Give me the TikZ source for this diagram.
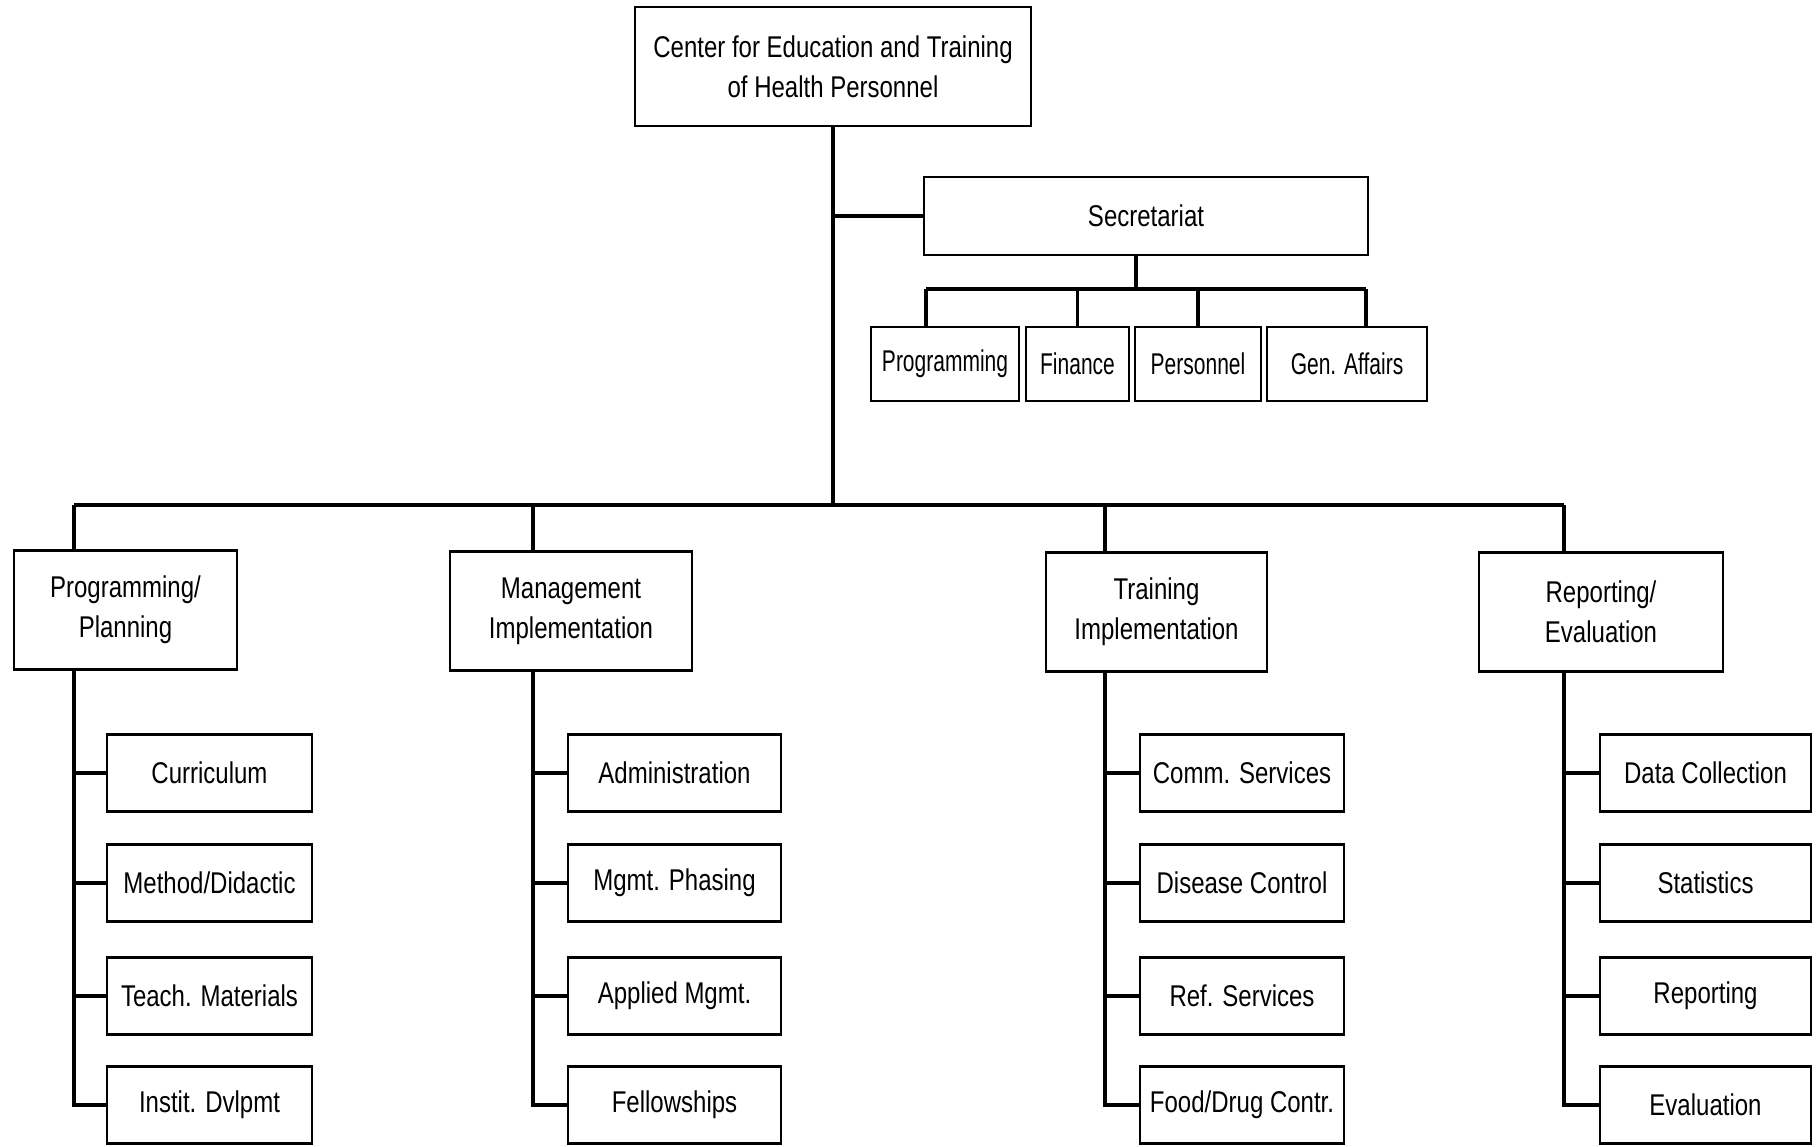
\documentclass[tikz,border=0pt]{standalone}
\usepackage{fontspec}
\usepackage{tikz}
\newfontfamily\plotfont[FakeStretch=0.8]{Liberation Sans}
\newfontfamily\plotnarrow[FakeStretch=0.7]{Liberation Sans}

\begin{document}
\begin{tikzpicture}[x=0.5pt,y=-0.5pt,line width=1.6pt,
    unit box/.style={draw,line width=1.4pt,inner sep=1pt,align=center,
      font={\plotfont\fontsize{15}{20}\selectfont}},
    head box/.style={unit box,minimum width=198pt,minimum height=59.5pt},
    sec box/.style={unit box,minimum height=37pt,
      font={\plotnarrow\fontsize{15}{20}\selectfont}},
    dept box/.style={unit box,minimum height=59.5pt},
    leaf box/.style={unit box,minimum height=38.5pt}]
  \useasboundingbox (0,0) rectangle (1818,1146);
  \fill[white] (0,0) rectangle (1818,1146);

  \node[head box] (ctr) at (833,66.5) {Center for Education and Training\\of Health Personnel};
  \node[unit box,minimum width=222pt,minimum height=39pt] (secr) at (1146,216) {Secretariat};

  \node[sec box,minimum width=74pt] (prg) at (945,364) {Programming};
  \node[sec box,minimum width=51.5pt] (fin) at (1077.5,364) {Finance};
  \node[sec box,minimum width=63pt] (pers) at (1198,364) {Personnel};
  \node[sec box,minimum width=80pt] (gen) at (1347,364) {Gen. Affairs};

  \node[dept box,minimum width=111.5pt] (plan) at (125.5,610) {Programming/\\Planning};
  \node[dept box,minimum width=121pt] (mgmt) at (571,611) {Management\\Implementation};
  \node[dept box,minimum width=110.5pt] (train) at (1156.5,612) {Training\\Implementation};
  \node[dept box,minimum width=122pt] (rep) at (1601,612) {Reporting/\\Evaluation};

  % Programming/Planning
  \node[leaf box,minimum width=102.5pt] (curr) at (209.5,773) {Curriculum};
  \node[leaf box,minimum width=102.5pt] (meth) at (209.5,883) {Method/Didactic};
  \node[leaf box,minimum width=102.5pt] (teach) at (209.5,996) {Teach. Materials};
  \node[leaf box,minimum width=102.5pt] (inst) at (209.5,1105) {Instit. Dvlpmt};

  % Management Implementation
  \node[leaf box,minimum width=106.5pt] (adm) at (674.5,773) {Administration};
  \node[leaf box,minimum width=106.5pt] (phas) at (674.5,883) {Mgmt. Phasing};
  \node[leaf box,minimum width=106.5pt] (appl) at (674.5,996) {Applied Mgmt.};
  \node[leaf box,minimum width=106.5pt] (fell) at (674.5,1105) {Fellowships};

  % Training Implementation
  \node[leaf box,minimum width=102pt] (comm) at (1242,773) {Comm. Services};
  \node[leaf box,minimum width=102pt] (dis) at (1242,883) {Disease Control};
  \node[leaf box,minimum width=102pt] (ref) at (1242,996) {Ref. Services};
  \node[leaf box,minimum width=102pt] (food) at (1242,1105) {Food/Drug Contr.};

  % Reporting/Evaluation
  \node[leaf box,minimum width=105.5pt] (data) at (1705.5,773) {Data Collection};
  \node[leaf box,minimum width=105.5pt] (stat) at (1705.5,883) {Statistics};
  \node[leaf box,minimum width=105.5pt] (rept) at (1705.5,996) {Reporting};
  \node[leaf box,minimum width=105.5pt] (eval) at (1705.5,1105) {Evaluation};

  \coordinate (b1) at (74,505);
  \coordinate (b2) at (533,505);
  \coordinate (b3) at (1105,505);
  \coordinate (b4) at (1564,505);
  \coordinate (s1) at (926,289);
  \coordinate (s4) at (1366,289);
  \coordinate (sd) at (1136,289);

  % trunk and secretariat
  \draw (ctr.south) -- (ctr.south |- b1);
  \draw (ctr.south |- secr.west) -- (secr.west);
  \draw (sd |- secr.south) -- (sd);
  \draw (s1) -- (s4);
  \draw (s1) -- (s1 |- prg.north);
  \draw (fin.north |- s1) -- (fin.north);
  \draw (pers.north |- s1) -- (pers.north);
  \draw (s4) -- (s4 |- gen.north);

  % departments
  \draw (b1) -- (b4);
  \draw (b1) -- (b1 |- plan.north);
  \draw (b2) -- (b2 |- mgmt.north);
  \draw (b3) -- (b3 |- train.north);
  \draw (b4) -- (b4 |- rep.north);

  \draw (b1 |- plan.south) -- (b1 |- inst.west) -- (inst.west);
  \draw (b1 |- curr.west) -- (curr.west);
  \draw (b1 |- meth.west) -- (meth.west);
  \draw (b1 |- teach.west) -- (teach.west);

  \draw (b2 |- mgmt.south) -- (b2 |- fell.west) -- (fell.west);
  \draw (b2 |- adm.west) -- (adm.west);
  \draw (b2 |- phas.west) -- (phas.west);
  \draw (b2 |- appl.west) -- (appl.west);

  \draw (b3 |- train.south) -- (b3 |- food.west) -- (food.west);
  \draw (b3 |- comm.west) -- (comm.west);
  \draw (b3 |- dis.west) -- (dis.west);
  \draw (b3 |- ref.west) -- (ref.west);

  \draw (b4 |- rep.south) -- (b4 |- eval.west) -- (eval.west);
  \draw (b4 |- data.west) -- (data.west);
  \draw (b4 |- stat.west) -- (stat.west);
  \draw (b4 |- rept.west) -- (rept.west);
\end{tikzpicture}
\end{document}
